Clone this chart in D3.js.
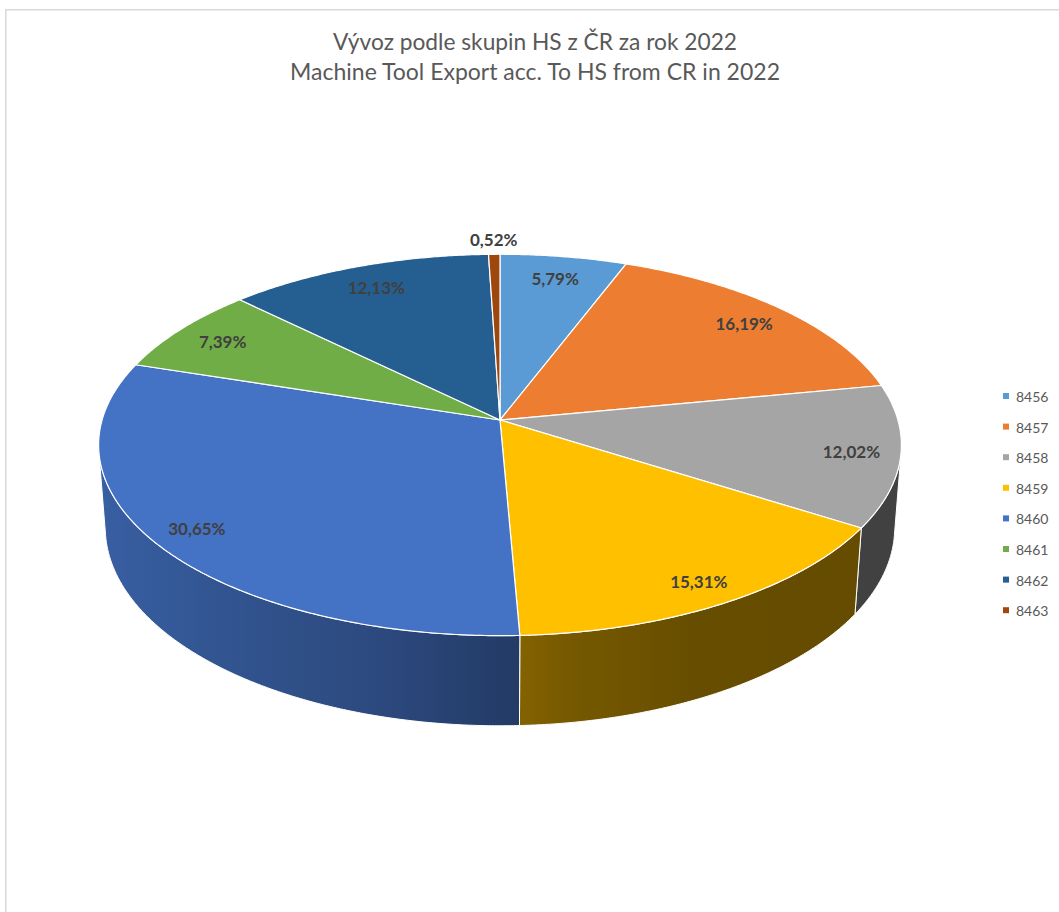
<!DOCTYPE html>
<html>
<head>
<meta charset="utf-8">
<script src="https://cdn.jsdelivr.net/npm/d3@7"></script>
<style>
  html, body { margin: 0; padding: 0; background: #fff; }
  svg { display: block; font-family: Lato, "Open Sans", sans-serif; }
</style>
</head>
<body>
<script>
// data
const categories = ['8456', '8457', '8458', '8459', '8460', '8461', '8462', '8463'];
const shares = [5.79, 16.19, 12.02, 15.31, 30.65, 7.39, 12.13, 0.52];
const titleLines = ['Vývoz podle skupin HS z ČR za rok 2022', 'Machine Tool Export acc. To HS from CR in 2022'];

const colors = ['#5B9BD5', '#ED7D31', '#A5A5A5', '#FFC000', '#4472C4', '#70AD47', '#255E91', '#9E480E'];

const width = 1059;
const height = 912;

const svg = d3.select('body').append('svg')
  .attr('width', width)
  .attr('height', height);

// chart frame
svg.append('rect')
  .attr('x', 5.75).attr('y', 9.75)
  .attr('width', 1200).attr('height', 1200)
  .attr('fill', '#fff')
  .attr('stroke', '#d9d9d9')
  .attr('stroke-width', 1.5);

// title
const title = svg.append('g').attr('fill', '#595959').attr('font-size', 23);
const titleWidths = [404, 490];
titleLines.forEach((t, i) => {
  title.append('text')
    .attr('x', 535)
    .attr('y', 50 + i * 30)
    .attr('text-anchor', 'middle')
    .attr('textLength', titleWidths[i])
    .attr('lengthAdjust', 'spacingAndGlyphs')
    .text(t);
});

// 3d projection of the pie disc (perspective, tilted)
const cx = 500, cy = 420;
const F = 2682, D = 6.74;
const tilt = 28.1 * Math.PI / 180;
const sn = Math.sin(tilt), cs = Math.cos(tilt);
const thick = 0.2376;

function project(a, r, yw) {
  const X = r * Math.sin(a);
  const Z = r * Math.cos(a);
  const yc = Z * sn + yw * cs;
  const zc = D + Z * cs - yw * sn;
  return [cx + F * X / zc, cy - F * yc / zc];
}

function rim(a0, a1, r, yw) {
  const step = 0.4 * Math.PI / 180;
  const n = Math.max(2, Math.ceil((a1 - a0) / step));
  const pts = [];
  for (let k = 0; k <= n; k++) pts.push(project(a0 + (a1 - a0) * k / n, r, yw));
  return pts;
}

const pie = d3.pie().sort(null).value(d => d).startAngle(0).endAngle(2 * Math.PI);
const arcs = pie(shares);

const line = d3.line();

// which part of the outer wall faces the viewer
const visA = Math.acos(-1 / (D * cs));
const visB = 2 * Math.PI - visA;

// wall shading by angle (light from the left)
const shade = d3.scaleLinear()
  .domain([95, 154, 171, 177, 196, 230, 265].map(v => v * Math.PI / 180))
  .range([0.39, 0.40, 0.46, 0.51, 0.65, 0.78, 0.86])
  .clamp(true);

function darken(col, b) {
  const c = d3.rgb(col);
  return d3.rgb(c.r * b, c.g * b, c.b * b).formatHex();
}

const defs = svg.append('defs');
const sides = svg.append('g');
const tops = svg.append('g');

arcs.forEach((d, i) => {
  const a0 = Math.max(d.startAngle, visA);
  const a1 = Math.min(d.endAngle, visB);
  if (a1 <= a0) return;

  const up = rim(a0, a1, 1, 0);
  const down = rim(a0, a1, 1, -thick).reverse();

  const xs = up.map(p => p[0]);
  const x1 = d3.min(xs), x2 = d3.max(xs);
  const grad = defs.append('linearGradient')
    .attr('id', 'side' + i)
    .attr('gradientUnits', 'userSpaceOnUse')
    .attr('x1', x1).attr('x2', x2)
    .attr('y1', 0).attr('y2', 0);
  const stops = d3.range(0, 25).map(k => {
    const a = a0 + (a1 - a0) * k / 24;
    const p = project(a, 1, 0);
    return { off: (p[0] - x1) / (x2 - x1), col: darken(colors[i], shade(a)) };
  }).sort((p, q) => p.off - q.off);
  grad.selectAll('stop').data(stops).join('stop')
    .attr('offset', s => s.off)
    .attr('stop-color', s => s.col);

  sides.append('path')
    .attr('d', line(up.concat(down)) + 'Z')
    .attr('fill', `url(#side${i})`)
    .attr('stroke', '#fff')
    .attr('stroke-width', 1)
    .attr('stroke-linejoin', 'round');
});

arcs.forEach((d, i) => {
  const pts = [[cx, cy]].concat(rim(d.startAngle, d.endAngle, 1, 0));
  tops.append('path')
    .attr('d', line(pts) + 'Z')
    .attr('fill', colors[i])
    .attr('stroke', '#fff')
    .attr('stroke-width', 1.2)
    .attr('stroke-linejoin', 'round');
});

// data labels
const fmt = v => d3.format('.2f')(v).replace('.', ',') + '%';
svg.append('g')
  .attr('font-weight', 'bold')
  .attr('font-size', 17)
  .attr('fill', '#404040')
  .selectAll('text')
  .data(arcs)
  .join('text')
  .attr('text-anchor', 'middle')
  .attr('dominant-baseline', 'central')
  .each(function(d) {
    const mid = (d.startAngle + d.endAngle) / 2;
    const r = d.value < 1 ? 1.1 : 0.875 - 0.025 * Math.cos(mid);
    const p = project(mid, r, 0);
    d3.select(this).attr('x', p[0]).attr('y', p[1]);
  })
  .text(d => fmt(d.value));

// legend
const legend = svg.append('g')
  .attr('transform', 'translate(1003, 396)')
  .selectAll('g')
  .data(categories)
  .join('g')
  .attr('transform', (d, i) => `translate(0, ${i * 30.6})`);

legend.append('rect')
  .attr('x', 0).attr('y', -3)
  .attr('width', 6).attr('height', 6)
  .attr('fill', (d, i) => colors[i]);

legend.append('text')
  .attr('x', 13)
  .attr('y', 0.5)
  .attr('dominant-baseline', 'central')
  .attr('font-size', 14)
  .attr('fill', '#595959')
  .text(d => d);
</script>
</body>
</html>
